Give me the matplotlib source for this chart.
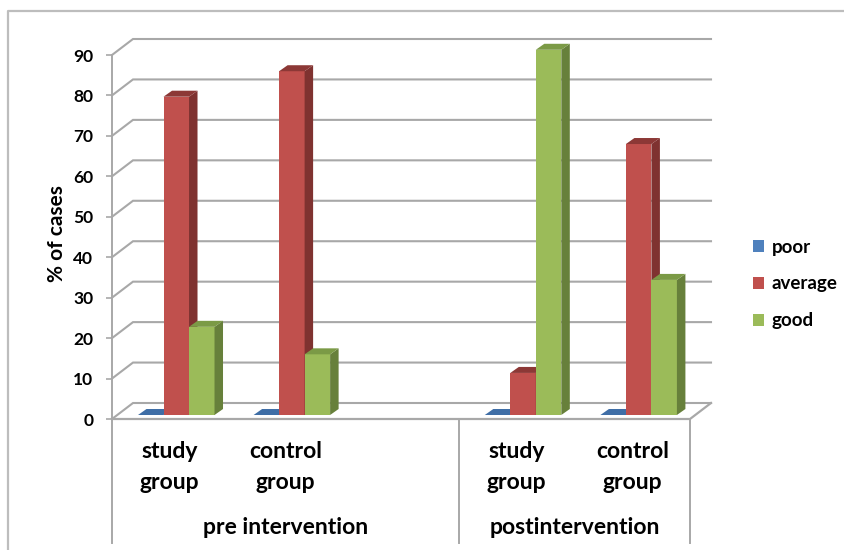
#!/usr/bin/python3
import matplotlib
matplotlib.use('Agg')
import matplotlib.pyplot as plt
from matplotlib.patches import Polygon
from matplotlib.lines import Line2D
from matplotlib.transforms import blended_transform_factory
import numpy as np

# category slots along the axis, slot 2 stays empty
slots = [0, 1, 3, 4]
slot_labels = ['study\ngroup', 'control\ngroup', 'study\ngroup', 'control\ngroup']
group_labels = ['pre intervention', 'postintervention']
group_edges = [0, 3, 5]
series_names = ['poor', 'average', 'good']
poor = [0, 0, 0, 0]
average = [78.7, 85, 10.4, 67]
good = [21.8, 15, 90.3, 33.4]
yticks = [0, 10, 20, 30, 40, 50, 60, 70, 80, 90]

front = ['#4f81bd', '#c0504d', '#9bbb59']
side = ['#3a6091', '#7f3230', '#67803b']
top = ['#3f6ea6', '#8c3836', '#7b9a46']
GRID = '#a8a8a8'
FRAME = '#bdbdbd'
FONT = 'Lato'

W, H = 845, 550
LEFT, RIGHT = 112, 690  # front plane of the plot in pixels
Y0, Y90 = 419, 55
SLOT_PX = (RIGHT - LEFT) / 5
UNIT_PX = (Y0 - Y90) / 90


def px_x(p):
    return p / SLOT_PX


def px_y(p):
    return p / UNIT_PX


plt.rcParams['font.family'] = FONT
fig = plt.figure(figsize=(W / 100, H / 100), dpi=100)

# outer chart frame, cut off at the right and bottom of the picture
fig.add_artist(Line2D([8 / W, 8 / W, 1], [0, 1 - 10.5 / H, 1 - 10.5 / H],
                      transform=fig.transFigure, color=FRAME, lw=1.6))

ax = fig.add_axes([LEFT / W, 1 - Y0 / H, (RIGHT - LEFT) / W, (Y0 - Y90) / H])
ax.set_xlim(0, 5)
ax.set_ylim(0, 90)
ax.patch.set_alpha(0)
for s in ['top', 'right', 'bottom']:
    ax.spines[s].set_visible(False)
ax.spines['left'].set_color(GRID)
ax.spines['left'].set_linewidth(1.4)

# back wall grid, left wall diagonals, floor
wall_x, wall_y = px_x(21), px_y(16)
for v in yticks:
    ax.plot([0, wall_x, 5 + wall_x], [v, v + wall_y, v + wall_y], color=GRID, lw=1.5,
            clip_on=False, zorder=1, solid_joinstyle='miter')
ax.plot([0, 5, 5 + wall_x], [0, 0, wall_y], color=GRID, lw=1.6, clip_on=False, zorder=1)

# bars: front through ax.bar, depth faces taken from the same values
bar_w = 25.5 / SLOT_PX
lift = px_y(4)
dx, dy = px_x(8.5), px_y(6)
slots_arr = np.array(slots, dtype=float)
z = 3
for i, (name, vals) in enumerate(zip(series_names, [poor, average, good])):
    xs = slots_arr + 0.225 + bar_w * i + bar_w / 2
    bars = ax.bar(xs, vals, width=bar_w, bottom=lift, color=front[i], label=name,
                  zorder=z, clip_on=False)
    for b in bars:
        x0, x1 = b.get_x(), b.get_x() + b.get_width()
        y0, y1 = b.get_y(), b.get_y() + b.get_height()
        ax.add_patch(Polygon([(x1, y0), (x1 + dx, y0 + dy), (x1 + dx, y1 + dy), (x1, y1)],
                             fc=side[i], ec='none', zorder=z, clip_on=False))
        ax.add_patch(Polygon([(x0, y1), (x0 + dx, y1 + dy), (x1 + dx, y1 + dy), (x1, y1)],
                             fc=top[i], ec='none', zorder=z, clip_on=False))
    z += 1

ax.set_yticks(yticks)
ax.tick_params(axis='y', length=4.5, width=1.2, color=GRID, pad=9, labelsize=12.5)
for t in ax.get_yticklabels():
    t.set_fontweight('bold')
ax.set_ylabel('% of cases', fontsize=15, fontweight='bold', labelpad=4.5,
              y=(Y0 - 234) / (Y0 - Y90))

ax.set_xticks(np.array(slots) + 0.5)
ax.set_xticklabels(slot_labels, fontsize=16.5, fontweight='bold', linespacing=1.56)
ax.tick_params(axis='x', length=0, pad=16)

# multi level category axis
trans = blended_transform_factory(ax.transData, ax.transAxes)
drop = -(543 - Y0) / (Y0 - Y90)
for e in group_edges:
    ax.add_line(Line2D([e, e], [0, drop], transform=trans, color=GRID, lw=1.4, clip_on=False))
for j, lab in enumerate(group_labels):
    mid = (group_edges[j] + group_edges[j + 1]) / 2
    ax.text(mid, -(528 - Y0) / (Y0 - Y90), lab, transform=trans, ha='center', va='center',
            fontsize=16.5, fontweight='bold')

handles, labels = ax.get_legend_handles_labels()
ax.legend(handles, labels, loc='center left', bbox_to_anchor=(736 / W, 1 - 284 / H),
          bbox_transform=fig.transFigure, frameon=False, handlelength=0.62,
          handleheight=0.62, handletextpad=0.37, labelspacing=1.06,
          prop={'family': FONT, 'weight': 'bold', 'size': 13.5})

fig.savefig('out.png', dpi=100)
